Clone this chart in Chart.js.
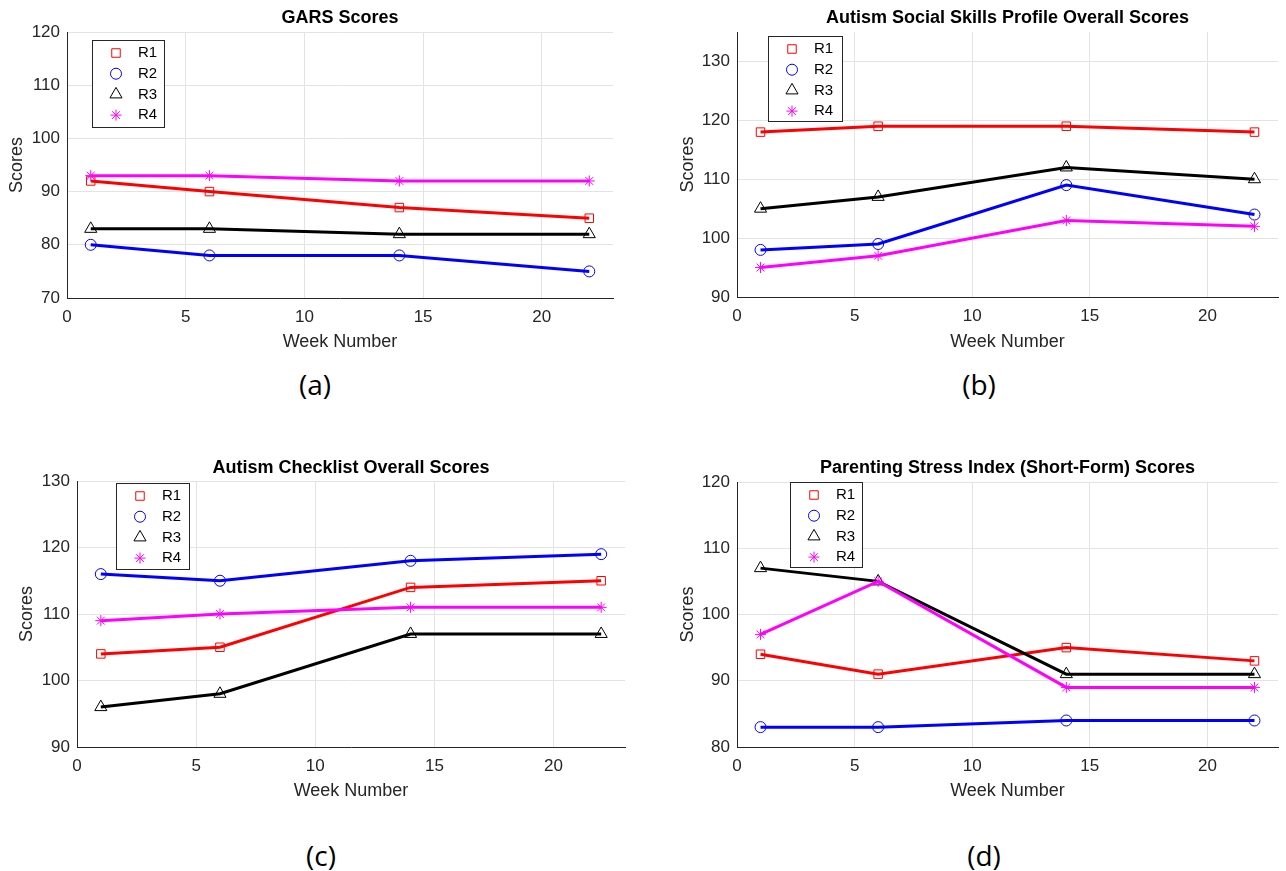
<!DOCTYPE html>
<html>
<head>
<meta charset="utf-8">
<script src="https://cdn.jsdelivr.net/npm/chart.js@4/dist/chart.umd.min.js"></script>
<style>
  body { margin: 0; background: #fff; }
  #wrap { position: relative; width: 1286px; height: 871px; overflow: hidden; }
  canvas { position: absolute; }
  .lab { position: absolute; transform: translate(-50%, -50%); font-family: "Open Sans", "Noto Sans", sans-serif; font-size: 28px; color: #000; }
</style>
</head>
<body>
<div id="wrap">
  <canvas id="cA" width="643" height="360" style="left:0;top:0"></canvas>
  <canvas id="cB" width="643" height="360" style="left:643px;top:0"></canvas>
  <canvas id="cC" width="643" height="359" style="left:0;top:450px"></canvas>
  <canvas id="cD" width="643" height="359" style="left:643px;top:450px"></canvas>
  <div class="lab" style="left:315px;top:384px">(a)</div>
  <div class="lab" style="left:979px;top:384px">(b)</div>
  <div class="lab" style="left:321px;top:855px">(c)</div>
  <div class="lab" style="left:984px;top:855px">(d)</div>
</div>
<script>
// data
var weeks = [1, 6, 14, 22];
var seriesNames = ['R1', 'R2', 'R3', 'R4'];

var garsR1 = [92, 90, 87, 85];
var garsR2 = [80, 78, 78, 75];
var garsR3 = [83, 83, 82, 82];
var garsR4 = [93, 93, 92, 92];

var socialR1 = [118, 119, 119, 118];
var socialR2 = [98, 99, 109, 104];
var socialR3 = [105, 107, 112, 110];
var socialR4 = [95, 97, 103, 102];

var checkR1 = [104, 105, 114, 115];
var checkR2 = [116, 115, 118, 119];
var checkR3 = [96, 98, 107, 107];
var checkR4 = [109, 110, 111, 111];

var stressR1 = [94, 91, 95, 93];
var stressR2 = [83, 83, 84, 84];
var stressR3 = [107, 105, 91, 91];
var stressR4 = [97, 105, 89, 89];

var colors = ['#ff0000', '#0000ff', '#000000', '#ff00ff'];
var markers = ['rect', 'circle', 'triangle', 'star'];
var markerSize = [6, 5.5, 7, 5.5];

Chart.defaults.font.family = '"Liberation Sans", Arial, Helvetica, sans-serif';
Chart.defaults.color = '#262626';

// MATLAB style legend box drawn inside the axes
var boxLegend = {
    id: 'boxLegend',
    afterDraw: function (chart, args, opts) {
        var ctx = chart.ctx;
        var a = chart.chartArea;
        var x = a.left + opts.dx, y = a.top + opts.dy;
        ctx.save();
        ctx.fillStyle = '#fff';
        ctx.fillRect(x, y, opts.w, opts.h);
        ctx.strokeStyle = '#262626';
        ctx.lineWidth = 1;
        ctx.strokeRect(x + 0.5, y + 0.5, opts.w, opts.h);
        chart.data.datasets.forEach(function (ds, i) {
            var cy = y + 13 + i * 20.7;
            ctx.strokeStyle = ds.pointBorderColor;
            ctx.fillStyle = 'rgba(0,0,0,0)';
            Chart.helpers.drawPoint(ctx, {pointStyle: ds.pointStyle, radius: ds.pointRadius, rotation: 0, borderWidth: 1}, x + 24, cy);
            ctx.fillStyle = '#000';
            ctx.font = '15px "Liberation Sans", Arial, sans-serif';
            ctx.textBaseline = 'middle';
            ctx.fillText(ds.label, x + 46, cy);
        });
        ctx.restore();
    }
};

function makeChart(id, title, series, yMin, yMax, lay) {
    var datasets = series.map(function (vals, i) {
        return {
            label: seriesNames[i],
            data: weeks.map(function (w, j) { return {x: w, y: vals[j]}; }),
            borderColor: colors[i],
            borderWidth: 3,
            pointStyle: markers[i],
            pointRadius: markerSize[i],
            pointBorderWidth: 1,
            pointBorderColor: colors[i],
            pointBackgroundColor: 'rgba(0,0,0,0)',
            tension: 0,
            order: 3 - i
        };
    });
    return new Chart(document.getElementById(id), {
        type: 'line',
        data: {datasets: datasets},
        plugins: [boxLegend],
        options: {
            responsive: false,
            animation: false,
            events: [],
            layout: {padding: {left: lay.padL, right: lay.padR, top: 0, bottom: 0}},
            plugins: {
                legend: {display: false},
                tooltip: {enabled: false},
                title: {
                    display: true,
                    text: title,
                    fullSize: false,
                    color: '#000',
                    font: {size: 18, weight: 'bold'},
                    padding: {top: 7, bottom: lay.titleBottom}
                },
                boxLegend: lay.legend
            },
            scales: {
                x: {
                    type: 'linear',
                    min: 0, max: 23,
                    ticks: {stepSize: 5, includeBounds: false, padding: 9, font: {size: 17}, color: '#262626'},
                    grid: {color: '#e3e3e3', drawTicks: false},
                    border: {color: '#262626', width: 1},
                    title: {display: true, text: 'Week Number', font: {size: 18}, color: '#262626', padding: {top: 0, bottom: 7}},
                    afterFit: function (s) { s.height = lay.xH; }
                },
                y: {
                    min: yMin, max: yMax,
                    ticks: {stepSize: 10, includeBounds: false, padding: 7, font: {size: 17}, color: '#262626'},
                    grid: {color: '#e3e3e3', drawTicks: false},
                    border: {color: '#262626', width: 1},
                    title: {display: true, text: 'Scores', font: {size: 18}, color: '#262626', padding: {top: 6, bottom: 0}},
                    afterFit: function (s) { s.width = lay.yW; }
                }
            }
        }
    });
}

makeChart('cA', 'GARS Scores', [garsR1, garsR2, garsR3, garsR4], 70, 120,
    {padL: 0, padR: 30, yW: 67, xH: 62, titleBottom: 3.4, legend: {dx: 25, dy: 8, w: 72, h: 87}});
makeChart('cB', 'Autism Social Skills Profile Overall Scores', [socialR1, socialR2, socialR3, socialR4], 90, 135,
    {padL: 28, padR: 1, yW: 66, xH: 63, titleBottom: 3.4, legend: {dx: 31, dy: 4, w: 74, h: 85}});
makeChart('cC', 'Autism Checklist Overall Scores', [checkR1, checkR2, checkR3, checkR4], 90, 130,
    {padL: 10, padR: 18, yW: 67, xH: 62, titleBottom: 2.4, legend: {dx: 39, dy: 2, w: 73, h: 86}});
makeChart('cD', 'Parenting Stress Index (Short-Form) Scores', [stressR1, stressR2, stressR3, stressR4], 80, 120,
    {padL: 28, padR: 2, yW: 66, xH: 62, titleBottom: 3.4, legend: {dx: 53, dy: 0, w: 72, h: 85}});
</script>
</body>
</html>
